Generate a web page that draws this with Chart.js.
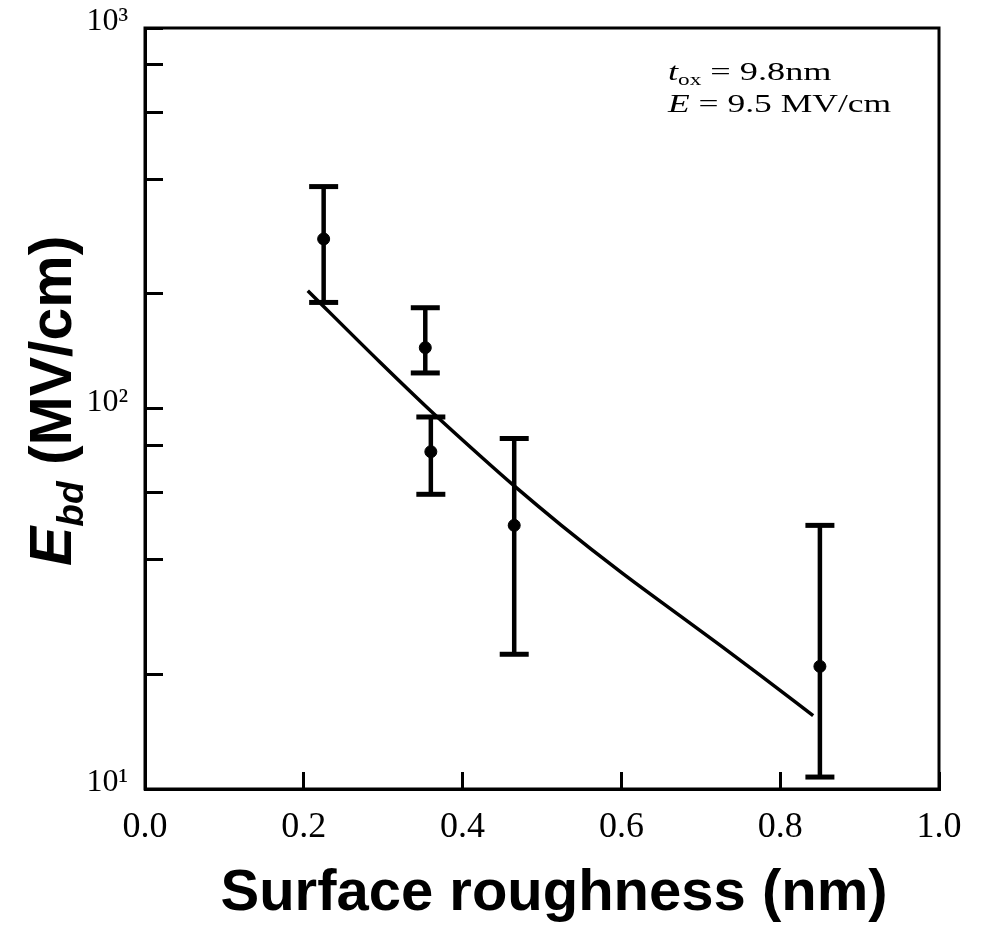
<!DOCTYPE html>
<html>
<head>
<meta charset="utf-8">
<script src="https://cdn.jsdelivr.net/npm/chart.js@4"></script>
<style>
  body { margin: 0; background: #fff; }
  #wrap { width: 984px; height: 926px; position: relative; }
</style>
</head>
<body>
<div id="wrap"><canvas id="chart_1"></canvas></div>
<script>
// measured points (surface roughness in nm, breakdown field in MV/cm)
var roughness = [0.225, 0.353, 0.360, 0.465, 0.850];
var ebd = [279, 144.5, 77, 49.3, 21];
var ebdHigh = [383, 184, 95, 83.4, 49.3];
var ebdLow = [190, 124, 59.5, 22.6, 10.75];

// fitted curve
var fitX = [0.205, 0.297, 0.360, 0.423, 0.465, 0.524, 0.599, 0.674, 0.725, 0.775, 0.8415];
var fitY = [204, 131.7, 98.5, 74.8, 62.6, 49.4, 37.2, 28.5, 23.8, 19.9, 15.6];

// axis ticks
var xTicks = [0.0, 0.2, 0.4, 0.6, 0.8, 1.0];
var yTicks = [10, 20, 40, 60, 80, 100, 200, 400, 600, 800, 1000];
var yLabels = { 10: "10\u00B9", 100: "10\u00B2", 1000: "10\u00B3" };

var xTitle = "Surface roughness (nm)";
var yTitle = [["E", "italic bold"], ["bd", "italic bold sub"], [" (MV/cm)", "bold"]];
var note1 = [["t", "italic"], ["ox", "sub"], [" = 9.8nm", ""]];
var note2 = [["E", "italic"], [" = 9.5 MV/cm", ""]];

var datasets = [];

// error bars: one small dataset per point, caps are 'line' point markers
roughness.forEach(function(x, i) {
  datasets.push({
    data: [{ x: x, y: ebdLow[i] }, { x: x, y: ebdHigh[i] }],
    showLine: true,
    borderColor: "#000",
    borderWidth: 4.5,
    pointStyle: "line",
    pointRadius: 14.5,
    pointBorderWidth: 5,
    pointBorderColor: "#000"
  });
});

datasets.push({
  data: roughness.map(function(x, i) { return { x: x, y: ebd[i] }; }),
  showLine: false,
  pointRadius: 6,
  pointBackgroundColor: "#000",
  pointBorderColor: "#000",
  pointBorderWidth: 1
});

datasets.push({
  data: fitX.map(function(x, i) { return { x: x, y: fitY[i] }; }),
  showLine: true,
  borderColor: "#000",
  borderWidth: 3.5,
  pointRadius: 0,
  cubicInterpolationMode: "monotone"
});

function drawRuns(ctx, runs, size, family) {
  var x = 0;
  runs.forEach(function(r) {
    var style = r[1];
    var sub = style.indexOf("sub") >= 0;
    var fs = sub ? Math.round(size * 0.62) : size;
    var f = "";
    if (style.indexOf("italic") >= 0) f += "italic ";
    if (style.indexOf("bold") >= 0) f += "bold ";
    ctx.font = f + fs + "px " + family;
    ctx.fillText(r[0], x, sub ? size * 0.2 : 0);
    x += ctx.measureText(r[0]).width;
  });
  return x;
}

var textPlugin = {
  id: "textPlugin",
  afterDraw: function(chart) {
    var ctx = chart.ctx;
    var a = chart.chartArea;
    ctx.save();
    // frame
    ctx.strokeStyle = "#000";
    ctx.lineWidth = 3;
    ctx.strokeRect(a.left, a.top, a.right - a.left, a.bottom - a.top);

    ctx.fillStyle = "#000";
    ctx.textBaseline = "alphabetic";
    ctx.textAlign = "left";

    // x title
    ctx.font = "bold 58px 'Liberation Sans', Arial, sans-serif";
    ctx.textAlign = "center";
    ctx.fillText(xTitle, 554, 910);
    ctx.textAlign = "left";

    // y title
    ctx.save();
    ctx.translate(71, 566);
    ctx.rotate(-Math.PI / 2);
    drawRuns(ctx, yTitle, 59, "'Liberation Sans', Arial, sans-serif");
    ctx.restore();

    // annotation
    var serif = "'Liberation Serif', 'Times New Roman', serif";
    ctx.save();
    ctx.translate(668, 80);
    ctx.scale(1.45, 1);
    drawRuns(ctx, note1, 25, serif);
    ctx.restore();
    ctx.save();
    ctx.translate(668, 112);
    ctx.scale(1.42, 1);
    drawRuns(ctx, note2, 25, serif);
    ctx.restore();

    ctx.restore();
  }
};

function noEdgePad(scale) {
  scale.paddingTop = 0;
  scale.paddingBottom = 0;
  scale.paddingLeft = 0;
  scale.paddingRight = 0;
}

var ctx = document.getElementById("chart_1").getContext("2d");
var chart = new Chart(ctx, {
  type: "scatter",
  data: { datasets: datasets },
  plugins: [textPlugin],
  options: {
    responsive: true,
    maintainAspectRatio: false,
    animation: false,
    events: [],
    layout: { padding: { left: 0, top: 28, right: 45, bottom: 0 } },
    plugins: { legend: { display: false }, tooltip: { enabled: false } },
    scales: {
      x: {
        type: "linear",
        min: 0,
        max: 1,
        afterBuildTicks: function(scale) {
          scale.ticks = xTicks.map(function(v) { return { value: v }; });
        },
        afterFit: function(scale) { scale.height = 137; noEdgePad(scale); },
        ticks: {
          color: "#000",
          padding: 34,
          maxRotation: 0,
          autoSkip: false,
          font: { family: "'Liberation Serif', 'Times New Roman', serif", size: 36 },
          callback: function(v) { return Number(v).toFixed(1); }
        },
        grid: { drawOnChartArea: false, tickLength: -17, lineWidth: 3, color: "#000" },
        border: { display: true, width: 3, color: "#000" }
      },
      y: {
        type: "logarithmic",
        min: 10,
        max: 1000,
        afterBuildTicks: function(scale) {
          scale.ticks = yTicks.map(function(v) { return { value: v }; });
        },
        afterFit: function(scale) { scale.width = 145; noEdgePad(scale); },
        ticks: {
          color: "#000",
          padding: 35,
          labelOffset: -6,
          autoSkip: false,
          font: { family: "'Liberation Serif', 'Times New Roman', serif", size: 32 },
          callback: function(v) { return yLabels[v] || ""; }
        },
        grid: { drawOnChartArea: false, tickLength: -18, lineWidth: 3, color: "#000" },
        border: { display: true, width: 3, color: "#000" }
      }
    }
  }
});
</script>
</body>
</html>
